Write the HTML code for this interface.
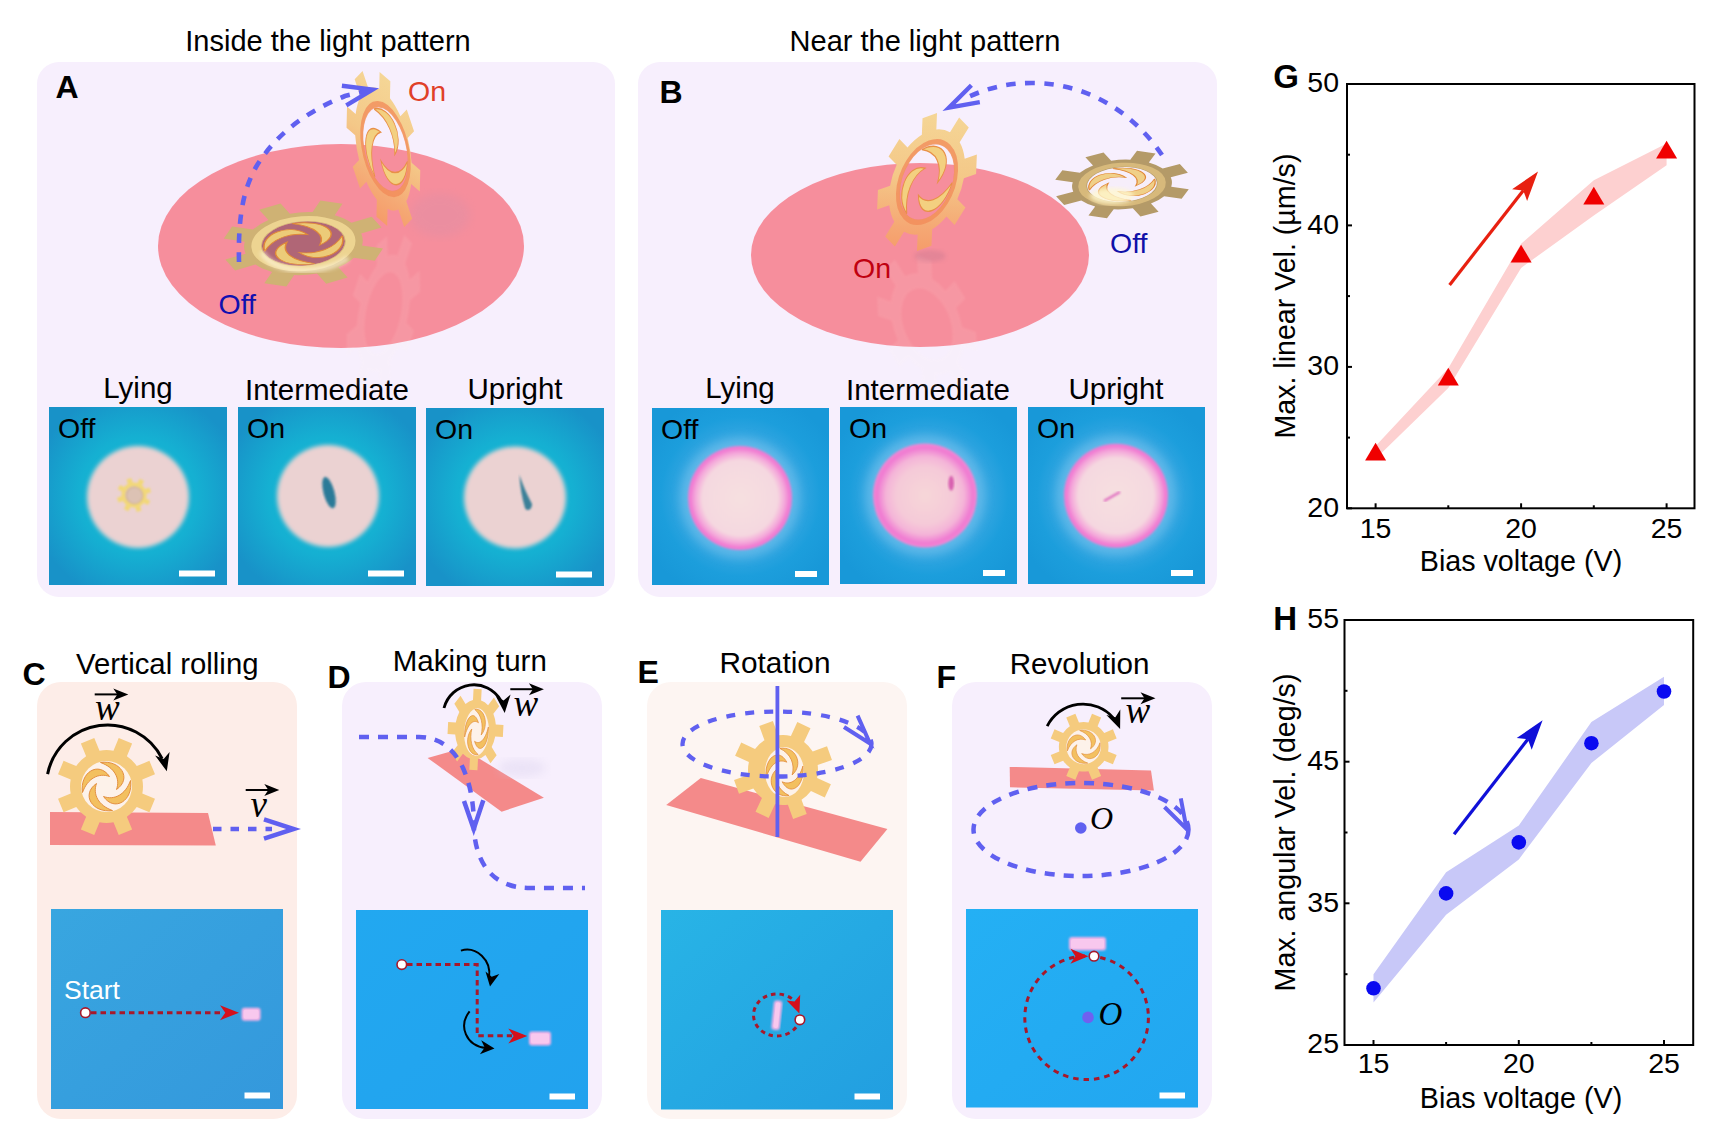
<!DOCTYPE html>
<html><head><meta charset="utf-8"><style>
html,body{margin:0;padding:0;background:#fff;width:1720px;height:1144px;overflow:hidden}
svg{display:block}
</style></head><body>
<svg width="1720" height="1144" viewBox="0 0 1720 1144">
<rect width="1720" height="1144" fill="#fff"/>
<defs>

<radialGradient id="gA" cx="0.5" cy="0.5" r="0.6">
 <stop offset="0" stop-color="#12c0d6"/><stop offset="0.55" stop-color="#15b0d2"/><stop offset="1" stop-color="#1892c8"/>
</radialGradient>
<radialGradient id="gB" cx="0.5" cy="0.5" r="0.6">
 <stop offset="0" stop-color="#6ab8ea"/><stop offset="0.5" stop-color="#3aa8e2"/><stop offset="0.75" stop-color="#1c9edc"/><stop offset="1" stop-color="#1898d8"/>
</radialGradient>
<radialGradient id="dishA" cx="0.5" cy="0.5" r="0.5">
 <stop offset="0" stop-color="#e8cbcd"/><stop offset="0.9" stop-color="#e7cacc"/><stop offset="1" stop-color="#e2d2d6"/>
</radialGradient>
<radialGradient id="dishB" cx="0.5" cy="0.5" r="0.5">
 <stop offset="0" stop-color="#f6e0e0"/><stop offset="0.72" stop-color="#f5d8e0"/><stop offset="0.86" stop-color="#f4a8da"/><stop offset="0.96" stop-color="#f078d2"/><stop offset="1" stop-color="#f080d4"/>
</radialGradient>
<radialGradient id="dishB2" cx="0.5" cy="0.5" r="0.5">
 <stop offset="0" stop-color="#f6d6d8"/><stop offset="0.55" stop-color="#f5cad8"/><stop offset="0.75" stop-color="#f4b4d8"/><stop offset="0.92" stop-color="#f07ad2"/><stop offset="1" stop-color="#f088d4"/>
</radialGradient>
<linearGradient id="gC" x1="0" y1="0" x2="1" y2="1"><stop offset="0" stop-color="#38a6e0"/><stop offset="1" stop-color="#3498dc"/></linearGradient>
<linearGradient id="gD" x1="0" y1="0" x2="1" y2="1"><stop offset="0" stop-color="#22a8f0"/><stop offset="1" stop-color="#22a2ee"/></linearGradient>
<linearGradient id="gE" x1="0" y1="0" x2="1" y2="1"><stop offset="0" stop-color="#28b4e6"/><stop offset="1" stop-color="#229ee0"/></linearGradient>
<linearGradient id="gF" x1="0" y1="0" x2="1" y2="1"><stop offset="0" stop-color="#24b0f4"/><stop offset="1" stop-color="#22a6f0"/></linearGradient>
<linearGradient id="gold" x1="0" y1="0" x2="1" y2="1"><stop offset="0" stop-color="#f6d28a"/><stop offset="0.5" stop-color="#f2c470"/><stop offset="1" stop-color="#eab060"/></linearGradient>
<linearGradient id="goldO" x1="0.6" y1="0" x2="0.3" y2="1"><stop offset="0" stop-color="#f5d696"/><stop offset="0.45" stop-color="#f4c888"/><stop offset="0.8" stop-color="#f5a874"/><stop offset="1" stop-color="#f59a68"/></linearGradient>
<linearGradient id="khaki" x1="0" y1="0" x2="1" y2="1"><stop offset="0" stop-color="#c8aa70"/><stop offset="1" stop-color="#d6b878"/></linearGradient>
<filter id="blur2"><feGaussianBlur stdDeviation="2"/></filter>
<filter id="blur1"><feGaussianBlur stdDeviation="1"/></filter>
<filter id="blur5"><feGaussianBlur stdDeviation="5"/></filter>
<marker id="mk" viewBox="0 0 10 10" refX="9" refY="5" markerWidth="6" markerHeight="6" orient="auto"><path d="M0,0 L10,5 L0,10 z" fill="#000"/></marker>

</defs>
<rect x="37" y="62" width="578" height="535" rx="22" fill="#f7effd"/>
<rect x="638" y="62" width="579" height="535" rx="22" fill="#f7effd"/>
<rect x="37" y="682" width="260" height="437" rx="24" fill="#fdede8"/>
<rect x="342" y="682" width="260" height="437" rx="24" fill="#f7effd"/>
<rect x="647" y="682" width="260" height="437" rx="24" fill="#fdf5f2"/>
<rect x="952" y="682" width="260" height="437" rx="24" fill="#f7effd"/>
<text x="328" y="50.7" font-family="Liberation Sans, sans-serif" font-size="29" fill="#000" text-anchor="middle" font-weight="normal"  >Inside the light pattern</text>
<text x="925" y="51" font-family="Liberation Sans, sans-serif" font-size="29" fill="#000" text-anchor="middle" font-weight="normal"  >Near the light pattern</text>
<text x="55.5" y="97.5" font-family="Liberation Sans, sans-serif" font-size="32" fill="#000" text-anchor="start" font-weight="bold"  >A</text>
<text x="659.5" y="102.7" font-family="Liberation Sans, sans-serif" font-size="32" fill="#000" text-anchor="start" font-weight="bold"  >B</text>
<text x="138" y="397.9" font-family="Liberation Sans, sans-serif" font-size="29.5" fill="#000" text-anchor="middle" font-weight="normal"  >Lying</text>
<text x="327" y="400.2" font-family="Liberation Sans, sans-serif" font-size="29.5" fill="#000" text-anchor="middle" font-weight="normal"  >Intermediate</text>
<text x="515" y="399" font-family="Liberation Sans, sans-serif" font-size="29.5" fill="#000" text-anchor="middle" font-weight="normal"  >Upright</text>
<text x="740" y="397.9" font-family="Liberation Sans, sans-serif" font-size="29.5" fill="#000" text-anchor="middle" font-weight="normal"  >Lying</text>
<text x="928" y="400.4" font-family="Liberation Sans, sans-serif" font-size="29.5" fill="#000" text-anchor="middle" font-weight="normal"  >Intermediate</text>
<text x="1116" y="398.6" font-family="Liberation Sans, sans-serif" font-size="29.5" fill="#000" text-anchor="middle" font-weight="normal"  >Upright</text>
<rect x="49" y="407" width="178" height="178" fill="url(#gA)"/>
<circle cx="138" cy="497" r="51" fill="#ebd2d2" filter="url(#blur2)"/>
<text x="58" y="438" font-family="Liberation Sans, sans-serif" font-size="28.5" fill="#000" text-anchor="start" font-weight="normal"  >Off</text>
<rect x="179" y="570.5" width="36" height="6" fill="#fff"/>
<rect x="238" y="407" width="178" height="178" fill="url(#gA)"/>
<circle cx="328" cy="496" r="51" fill="#ebd2d2" filter="url(#blur2)"/>
<text x="247" y="438" font-family="Liberation Sans, sans-serif" font-size="28.5" fill="#000" text-anchor="start" font-weight="normal"  >On</text>
<rect x="368" y="570.5" width="36" height="6" fill="#fff"/>
<rect x="426" y="408" width="178" height="178" fill="url(#gA)"/>
<circle cx="515" cy="497.5" r="51" fill="#ebd2d2" filter="url(#blur2)"/>
<text x="435" y="439" font-family="Liberation Sans, sans-serif" font-size="28.5" fill="#000" text-anchor="start" font-weight="normal"  >On</text>
<rect x="556" y="571.5" width="36" height="6" fill="#fff"/>
<rect x="652" y="408" width="177" height="177" fill="url(#gB)"/>
<circle cx="740" cy="498" r="60" fill="#7cc4ee" opacity="0.55" filter="url(#blur5)"/>
<circle cx="740" cy="498" r="52" fill="url(#dishB)" filter="url(#blur1)"/>
<text x="661" y="439" font-family="Liberation Sans, sans-serif" font-size="28.5" fill="#000" text-anchor="start" font-weight="normal"  >Off</text>
<rect x="795" y="571" width="22" height="6" fill="#fff"/>
<rect x="840" y="407" width="177" height="177" fill="url(#gB)"/>
<circle cx="925" cy="495.5" r="60" fill="#7cc4ee" opacity="0.55" filter="url(#blur5)"/>
<circle cx="925" cy="495.5" r="52" fill="url(#dishB2)" filter="url(#blur1)"/>
<text x="849" y="438" font-family="Liberation Sans, sans-serif" font-size="28.5" fill="#000" text-anchor="start" font-weight="normal"  >On</text>
<rect x="983" y="570" width="22" height="6" fill="#fff"/>
<rect x="1028" y="407" width="177" height="177" fill="url(#gB)"/>
<circle cx="1116" cy="495.7" r="60" fill="#7cc4ee" opacity="0.55" filter="url(#blur5)"/>
<circle cx="1116" cy="495.7" r="52" fill="url(#dishB)" filter="url(#blur1)"/>
<text x="1037" y="438" font-family="Liberation Sans, sans-serif" font-size="28.5" fill="#000" text-anchor="start" font-weight="normal"  >On</text>
<rect x="1171" y="570" width="22" height="6" fill="#fff"/>
<text x="22.5" y="684.7" font-family="Liberation Sans, sans-serif" font-size="32" fill="#000" text-anchor="start" font-weight="bold"  >C</text>
<text x="327.5" y="688" font-family="Liberation Sans, sans-serif" font-size="32" fill="#000" text-anchor="start" font-weight="bold"  >D</text>
<text x="637.5" y="682.6" font-family="Liberation Sans, sans-serif" font-size="32" fill="#000" text-anchor="start" font-weight="bold"  >E</text>
<text x="936.5" y="687.7" font-family="Liberation Sans, sans-serif" font-size="32" fill="#000" text-anchor="start" font-weight="bold"  >F</text>
<text x="167.3" y="673.7" font-family="Liberation Sans, sans-serif" font-size="29.3" fill="#000" text-anchor="middle" font-weight="normal"  >Vertical rolling</text>
<text x="469.8" y="670.7" font-family="Liberation Sans, sans-serif" font-size="29.5" fill="#000" text-anchor="middle" font-weight="normal"  >Making turn</text>
<text x="775" y="673" font-family="Liberation Sans, sans-serif" font-size="29.8" fill="#000" text-anchor="middle" font-weight="normal"  >Rotation</text>
<text x="1079.6" y="674.2" font-family="Liberation Sans, sans-serif" font-size="29.6" fill="#000" text-anchor="middle" font-weight="normal"  >Revolution</text>
<rect x="51" y="909" width="232" height="200" fill="url(#gC)"/>
<rect x="244.5" y="1092.5" width="25.5" height="6" fill="#fff"/>
<rect x="356" y="910" width="232" height="199" fill="url(#gD)"/>
<rect x="549.5" y="1093.5" width="25.5" height="6" fill="#fff"/>
<rect x="661" y="910" width="232" height="199.5" fill="url(#gE)"/>
<rect x="854.5" y="1093.5" width="25.5" height="6" fill="#fff"/>
<rect x="966" y="909" width="232" height="198.5" fill="url(#gF)"/>
<rect x="1159.5" y="1092.5" width="25.5" height="6" fill="#fff"/>
<ellipse cx="341" cy="246" rx="183" ry="102" fill="#f68e9c"/>
<ellipse cx="920" cy="255" rx="169" ry="92" fill="#f68e9c"/>
<ellipse cx="440" cy="215" rx="30" ry="22" fill="#d890a8" opacity="0.35" filter="url(#blur5)"/>
<g transform="translate(0,462) scale(1,-1)" opacity="0.09" filter="url(#blur1)"><path d="M6.99,-35.82 L12.23,-48.48 L25.63,-42.93 L20.39,-30.28 A36.50,36.50 0 0 1 30.28,-20.39 L42.93,-25.63 L48.48,-12.23 L35.82,-6.99 A36.50,36.50 0 0 1 35.82,6.99 L48.48,12.23 L42.93,25.63 L30.28,20.39 A36.50,36.50 0 0 1 20.39,30.28 L25.63,42.93 L12.23,48.48 L6.99,35.82 A36.50,36.50 0 0 1 -6.99,35.82 L-12.23,48.48 L-25.63,42.93 L-20.39,30.28 A36.50,36.50 0 0 1 -30.28,20.39 L-42.93,25.63 L-48.48,12.23 L-35.82,6.99 A36.50,36.50 0 0 1 -35.82,-6.99 L-48.48,-12.23 L-42.93,-25.63 L-30.28,-20.39 A36.50,36.50 0 0 1 -20.39,-30.28 L-25.63,-42.93 L-12.23,-48.48 L-6.99,-35.82 A36.50,36.50 0 0 1 6.99,-35.82 Z M25.50,0.00 A25.50,25.50 0 1 0 -25.50,0.00 A25.50,25.50 0 1 0 25.50,0.00 Z" fill="#fff4e8" fill-rule="evenodd" transform="matrix(0.696,0.037,0.254,1.6,383.4,149)"/></g>
<g transform="translate(0,506) scale(1,-1)" opacity="0.09" filter="url(#blur1)"><path d="M-7.25,-35.77 L-7.25,-49.47 L7.25,-49.47 L7.25,-35.77 A36.50,36.50 0 0 1 20.17,-30.42 L29.86,-40.11 L40.11,-29.86 L30.42,-20.17 A36.50,36.50 0 0 1 35.77,-7.25 L49.47,-7.25 L49.47,7.25 L35.77,7.25 A36.50,36.50 0 0 1 30.42,20.17 L40.11,29.86 L29.86,40.11 L20.17,30.42 A36.50,36.50 0 0 1 7.25,35.77 L7.25,49.47 L-7.25,49.47 L-7.25,35.77 A36.50,36.50 0 0 1 -20.17,30.42 L-29.86,40.11 L-40.11,29.86 L-30.42,20.17 A36.50,36.50 0 0 1 -35.77,7.25 L-49.47,7.25 L-49.47,-7.25 L-35.77,-7.25 A36.50,36.50 0 0 1 -30.42,-20.17 L-40.11,-29.86 L-29.86,-40.11 L-20.17,-30.42 A36.50,36.50 0 0 1 -7.25,-35.77 Z M25.50,0.00 A25.50,25.50 0 1 0 -25.50,0.00 A25.50,25.50 0 1 0 25.50,0.00 Z" fill="#fff4e8" fill-rule="evenodd" transform="matrix(1.0,-0.36,-0.056,1.34,927,182)"/></g>
<ellipse cx="930" cy="256" rx="16" ry="6" fill="#c87890" opacity="0.4" filter="url(#blur2)"/>
<g transform="translate(303.4,243.6) rotate(-4) scale(1.63,0.86)">
<ellipse cx="0" cy="0" rx="25.5" ry="25.5" fill="#b06676"/>
<path d="M6.99,-35.82 L12.23,-48.48 L25.63,-42.93 L20.39,-30.28 A36.50,36.50 0 0 1 30.28,-20.39 L42.93,-25.63 L48.48,-12.23 L35.82,-6.99 A36.50,36.50 0 0 1 35.82,6.99 L48.48,12.23 L42.93,25.63 L30.28,20.39 A36.50,36.50 0 0 1 20.39,30.28 L25.63,42.93 L12.23,48.48 L6.99,35.82 A36.50,36.50 0 0 1 -6.99,35.82 L-12.23,48.48 L-25.63,42.93 L-20.39,30.28 A36.50,36.50 0 0 1 -30.28,20.39 L-42.93,25.63 L-48.48,12.23 L-35.82,6.99 A36.50,36.50 0 0 1 -35.82,-6.99 L-48.48,-12.23 L-42.93,-25.63 L-30.28,-20.39 A36.50,36.50 0 0 1 -20.39,-30.28 L-25.63,-42.93 L-12.23,-48.48 L-6.99,-35.82 A36.50,36.50 0 0 1 6.99,-35.82 Z M25.50,0.00 A25.50,25.50 0 1 0 -25.50,0.00 A25.50,25.50 0 1 0 25.50,0.00 Z" fill="#cfb274" fill-rule="evenodd" stroke="none" stroke-width="0.6" />
<ellipse cx="0" cy="0" rx="29.0" ry="29.0" fill="none" stroke="#f4dc98" stroke-width="6" opacity="0.8"/>
<g transform="translate(0,0) scale(1.000,1.000)">
<path transform="rotate(0.0)" d="M-6,-24 C14,-27 26,-8 10,3 C14,-8 8,-19 -6,-24 Z" fill="#eccb78" stroke="#e08838" stroke-width="0.9"/>
<path transform="rotate(90.0)" d="M-6,-24 C14,-27 26,-8 10,3 C14,-8 8,-19 -6,-24 Z" fill="#eccb78" stroke="#e08838" stroke-width="0.9"/>
<path transform="rotate(180.0)" d="M-6,-24 C14,-27 26,-8 10,3 C14,-8 8,-19 -6,-24 Z" fill="#eccb78" stroke="#e08838" stroke-width="0.9"/>
<path transform="rotate(270.0)" d="M-6,-24 C14,-27 26,-8 10,3 C14,-8 8,-19 -6,-24 Z" fill="#eccb78" stroke="#e08838" stroke-width="0.9"/>
</g>
</g>
<path d="M262,252 C270,272 320,278 348,258" fill="none" stroke="#fff8e0" stroke-width="5" opacity="0.7" filter="url(#blur2)"/>
<g transform="matrix(0.696,0.037,0.254,1.6,383.4,149)">
<path d="M7.77,-37.71 L12.23,-48.48 L25.63,-42.93 L21.17,-32.16 A38.50,38.50 0 0 1 32.16,-21.17 L42.93,-25.63 L48.48,-12.23 L37.71,-7.77 A38.50,38.50 0 0 1 37.71,7.77 L48.48,12.23 L42.93,25.63 L32.16,21.17 A38.50,38.50 0 0 1 21.17,32.16 L25.63,42.93 L12.23,48.48 L7.77,37.71 A38.50,38.50 0 0 1 -7.77,37.71 L-12.23,48.48 L-25.63,42.93 L-21.17,32.16 A38.50,38.50 0 0 1 -32.16,21.17 L-42.93,25.63 L-48.48,12.23 L-37.71,7.77 A38.50,38.50 0 0 1 -37.71,-7.77 L-48.48,-12.23 L-42.93,-25.63 L-32.16,-21.17 A38.50,38.50 0 0 1 -21.17,-32.16 L-25.63,-42.93 L-12.23,-48.48 L-7.77,-37.71 A38.50,38.50 0 0 1 7.77,-37.71 Z M34.00,0.00 A31.00,26.50 0 1 0 -28.00,0.00 A31.00,26.50 0 1 0 34.00,0.00 Z" fill="url(#goldO)" fill-rule="evenodd" stroke="none" stroke-width="0.6" />
<g transform="translate(3,0) scale(1.216,1.039)">
<path transform="rotate(0.0)" d="M-6,-24 C14,-27 26,-8 10,3 C14,-8 8,-19 -6,-24 Z" fill="#f3d080" stroke="#e89048" stroke-width="0.9"/>
<path transform="rotate(120.0)" d="M-6,-24 C14,-27 26,-8 10,3 C14,-8 8,-19 -6,-24 Z" fill="#f3d080" stroke="#e89048" stroke-width="0.9"/>
<path transform="rotate(240.0)" d="M-6,-24 C14,-27 26,-8 10,3 C14,-8 8,-19 -6,-24 Z" fill="#f3d080" stroke="#e89048" stroke-width="0.9"/>
</g>
</g>
<ellipse cx="3" cy="0" rx="32.5" ry="28" fill="none" stroke="#f28a58" stroke-width="4" opacity="0.75" transform="matrix(0.696,0.037,0.254,1.6,383.4,149)"/>
<g transform="matrix(1.0,-0.36,-0.056,1.34,927,182)">
<path d="M-7.25,-37.30 L-7.25,-49.47 L7.25,-49.47 L7.25,-37.30 A38.00,38.00 0 0 1 21.25,-31.50 L29.86,-40.11 L40.11,-29.86 L31.50,-21.25 A38.00,38.00 0 0 1 37.30,-7.25 L49.47,-7.25 L49.47,7.25 L37.30,7.25 A38.00,38.00 0 0 1 31.50,21.25 L40.11,29.86 L29.86,40.11 L21.25,31.50 A38.00,38.00 0 0 1 7.25,37.30 L7.25,49.47 L-7.25,49.47 L-7.25,37.30 A38.00,38.00 0 0 1 -21.25,31.50 L-29.86,40.11 L-40.11,29.86 L-31.50,21.25 A38.00,38.00 0 0 1 -37.30,7.25 L-49.47,7.25 L-49.47,-7.25 L-37.30,-7.25 A38.00,38.00 0 0 1 -31.50,-21.25 L-40.11,-29.86 L-29.86,-40.11 L-21.25,-31.50 A38.00,38.00 0 0 1 -7.25,-37.30 Z M27.50,0.00 A27.50,27.50 0 1 0 -27.50,0.00 A27.50,27.50 0 1 0 27.50,0.00 Z" fill="url(#goldO)" fill-rule="evenodd" stroke="none" stroke-width="0.6" />
<g transform="translate(0,0) scale(1.078,1.078)">
<path transform="rotate(0.0)" d="M-6,-24 C14,-27 26,-8 10,3 C14,-8 8,-19 -6,-24 Z" fill="#f3d080" stroke="#e89048" stroke-width="0.9"/>
<path transform="rotate(120.0)" d="M-6,-24 C14,-27 26,-8 10,3 C14,-8 8,-19 -6,-24 Z" fill="#f3d080" stroke="#e89048" stroke-width="0.9"/>
<path transform="rotate(240.0)" d="M-6,-24 C14,-27 26,-8 10,3 C14,-8 8,-19 -6,-24 Z" fill="#f3d080" stroke="#e89048" stroke-width="0.9"/>
</g>
</g>
<ellipse cx="0" cy="0" rx="29" ry="29" fill="none" stroke="#f28a58" stroke-width="4" opacity="0.75" transform="matrix(1.0,-0.36,-0.056,1.34,927,182)"/>
<g transform="translate(1122,184.5) rotate(-3) scale(1.37,0.68)">
<ellipse cx="0" cy="0" rx="25.5" ry="25.5" fill="#f6eefa"/>
<path d="M6.99,-35.82 L12.23,-48.48 L25.63,-42.93 L20.39,-30.28 A36.50,36.50 0 0 1 30.28,-20.39 L42.93,-25.63 L48.48,-12.23 L35.82,-6.99 A36.50,36.50 0 0 1 35.82,6.99 L48.48,12.23 L42.93,25.63 L30.28,20.39 A36.50,36.50 0 0 1 20.39,30.28 L25.63,42.93 L12.23,48.48 L6.99,35.82 A36.50,36.50 0 0 1 -6.99,35.82 L-12.23,48.48 L-25.63,42.93 L-20.39,30.28 A36.50,36.50 0 0 1 -30.28,20.39 L-42.93,25.63 L-48.48,12.23 L-35.82,6.99 A36.50,36.50 0 0 1 -35.82,-6.99 L-48.48,-12.23 L-42.93,-25.63 L-30.28,-20.39 A36.50,36.50 0 0 1 -20.39,-30.28 L-25.63,-42.93 L-12.23,-48.48 L-6.99,-35.82 A36.50,36.50 0 0 1 6.99,-35.82 Z M25.50,0.00 A25.50,25.50 0 1 0 -25.50,0.00 A25.50,25.50 0 1 0 25.50,0.00 Z" fill="#b49a68" fill-rule="evenodd" stroke="none" stroke-width="0.6" />
<ellipse cx="0" cy="0" rx="29.0" ry="29.0" fill="none" stroke="#e0c080" stroke-width="6" opacity="0.8"/>
<g transform="translate(0,0) scale(1.000,1.000)">
<path transform="rotate(0.0)" d="M-6,-24 C14,-27 26,-8 10,3 C14,-8 8,-19 -6,-24 Z" fill="#f0d088" stroke="#e08838" stroke-width="0.9"/>
<path transform="rotate(90.0)" d="M-6,-24 C14,-27 26,-8 10,3 C14,-8 8,-19 -6,-24 Z" fill="#f0d088" stroke="#e08838" stroke-width="0.9"/>
<path transform="rotate(180.0)" d="M-6,-24 C14,-27 26,-8 10,3 C14,-8 8,-19 -6,-24 Z" fill="#f0d088" stroke="#e08838" stroke-width="0.9"/>
<path transform="rotate(270.0)" d="M-6,-24 C14,-27 26,-8 10,3 C14,-8 8,-19 -6,-24 Z" fill="#f0d088" stroke="#e08838" stroke-width="0.9"/>
</g>
</g>
<ellipse cx="1112" cy="196" rx="22" ry="8" fill="#fff8d0" opacity="0.8" filter="url(#blur2)"/>
<path d="M239,262 C238,218 243,190 256,167 C272,140 300,114 345,96 L368,90.5" fill="none" stroke="#6060f0" stroke-width="4.6" stroke-dasharray="9.5,9.5"/>
<path d="M341.9,85.7 L372.5,89.6 L346.3,105.3" fill="none" stroke="#6060f0" stroke-width="4.4" stroke-linejoin="miter"/>
<path d="M1162,155 C1135,115 1090,83 1032,83 C1005,83 985,89 966,98" fill="none" stroke="#6060f0" stroke-width="4.6" stroke-dasharray="9.5,9.5"/>
<path d="M971.4,85.3 L949,107.7 L979.8,102.1" fill="none" stroke="#6060f0" stroke-width="4.4" stroke-linejoin="miter"/>
<text x="408" y="101.4" font-family="Liberation Sans, sans-serif" font-size="28.5" fill="#e04028" text-anchor="start" font-weight="normal"  >On</text>
<text x="218.5" y="313.9" font-family="Liberation Sans, sans-serif" font-size="28.5" fill="#1010b0" text-anchor="start" font-weight="normal"  >Off</text>
<text x="853" y="278" font-family="Liberation Sans, sans-serif" font-size="28.5" fill="#c00010" text-anchor="start" font-weight="normal"  >On</text>
<text x="1110" y="253.4" font-family="Liberation Sans, sans-serif" font-size="28.5" fill="#1010a8" text-anchor="start" font-weight="normal"  >Off</text>
<polygon points="50,812 208,813 215.8,845.4 50,845" fill="#f48a8a"/>
<g transform="translate(106.5,786.5)">
<ellipse cx="0" cy="0" rx="25.5" ry="25.5" fill="#fdf2ea"/>
<path d="M6.99,-35.82 L12.23,-48.48 L25.63,-42.93 L20.39,-30.28 A36.50,36.50 0 0 1 30.28,-20.39 L42.93,-25.63 L48.48,-12.23 L35.82,-6.99 A36.50,36.50 0 0 1 35.82,6.99 L48.48,12.23 L42.93,25.63 L30.28,20.39 A36.50,36.50 0 0 1 20.39,30.28 L25.63,42.93 L12.23,48.48 L6.99,35.82 A36.50,36.50 0 0 1 -6.99,35.82 L-12.23,48.48 L-25.63,42.93 L-20.39,30.28 A36.50,36.50 0 0 1 -30.28,20.39 L-42.93,25.63 L-48.48,12.23 L-35.82,6.99 A36.50,36.50 0 0 1 -35.82,-6.99 L-48.48,-12.23 L-42.93,-25.63 L-30.28,-20.39 A36.50,36.50 0 0 1 -20.39,-30.28 L-25.63,-42.93 L-12.23,-48.48 L-6.99,-35.82 A36.50,36.50 0 0 1 6.99,-35.82 Z M25.50,0.00 A25.50,25.50 0 1 0 -25.50,0.00 A25.50,25.50 0 1 0 25.50,0.00 Z" fill="#f5cb7e" fill-rule="evenodd" stroke="none" stroke-width="0.6" />
<g transform="translate(0,0) scale(1.000,1.000)">
<path transform="rotate(0.0)" d="M-6,-24 C14,-27 26,-8 10,3 C14,-8 8,-19 -6,-24 Z" fill="#f3c060" stroke="#e08838" stroke-width="0.9"/>
<path transform="rotate(90.0)" d="M-6,-24 C14,-27 26,-8 10,3 C14,-8 8,-19 -6,-24 Z" fill="#f3c060" stroke="#e08838" stroke-width="0.9"/>
<path transform="rotate(180.0)" d="M-6,-24 C14,-27 26,-8 10,3 C14,-8 8,-19 -6,-24 Z" fill="#f3c060" stroke="#e08838" stroke-width="0.9"/>
<path transform="rotate(270.0)" d="M-6,-24 C14,-27 26,-8 10,3 C14,-8 8,-19 -6,-24 Z" fill="#f3c060" stroke="#e08838" stroke-width="0.9"/>
</g>
</g>
<path d="M47.6,774.1 A61.1,61.1 0 0 1 162.1,758.6" fill="none" stroke="#000" stroke-width="3.0"/>
<path d="M166.8,771.2 L155.1,755.6 L163.7,759.0 L169.6,751.9 Z" fill="#000"/>
<line x1="213" y1="829" x2="272" y2="829" stroke="#6060f0" stroke-width="4.3" stroke-dasharray="8.5,9"/>
<path d="M264,819.4 L293.7,829 L264,838.7" fill="none" stroke="#6060f0" stroke-width="4.5"/>
<polygon points="427.6,757.9 462.2,748.3 543.9,797.7 501.6,811.7" fill="#f48a8a"/>
<ellipse cx="522" cy="768" rx="24" ry="9" fill="#d0c8e8" opacity="0.3" filter="url(#blur5)"/>
<g transform="translate(475.5,729.5) rotate(3) scale(0.56,0.82)">
<ellipse cx="2" cy="3" rx="22" ry="29" fill="#fdf2ea"/>
<path d="M-7.25,-35.77 L-7.25,-49.47 L7.25,-49.47 L7.25,-35.77 A36.50,36.50 0 0 1 20.17,-30.42 L29.86,-40.11 L40.11,-29.86 L30.42,-20.17 A36.50,36.50 0 0 1 35.77,-7.25 L49.47,-7.25 L49.47,7.25 L35.77,7.25 A36.50,36.50 0 0 1 30.42,20.17 L40.11,29.86 L29.86,40.11 L20.17,30.42 A36.50,36.50 0 0 1 7.25,35.77 L7.25,49.47 L-7.25,49.47 L-7.25,35.77 A36.50,36.50 0 0 1 -20.17,30.42 L-29.86,40.11 L-40.11,29.86 L-30.42,20.17 A36.50,36.50 0 0 1 -35.77,7.25 L-49.47,7.25 L-49.47,-7.25 L-35.77,-7.25 A36.50,36.50 0 0 1 -30.42,-20.17 L-40.11,-29.86 L-29.86,-40.11 L-20.17,-30.42 A36.50,36.50 0 0 1 -7.25,-35.77 Z M24.00,3.00 A22.00,29.00 0 1 0 -20.00,3.00 A22.00,29.00 0 1 0 24.00,3.00 Z" fill="#f5cb7e" fill-rule="evenodd" stroke="none" stroke-width="0.6" />
<g transform="translate(2,3) scale(0.863,1.137)">
<path transform="rotate(0.0)" d="M-6,-24 C14,-27 26,-8 10,3 C14,-8 8,-19 -6,-24 Z" fill="#f3c060" stroke="#e08838" stroke-width="0.9"/>
<path transform="rotate(90.0)" d="M-6,-24 C14,-27 26,-8 10,3 C14,-8 8,-19 -6,-24 Z" fill="#f3c060" stroke="#e08838" stroke-width="0.9"/>
<path transform="rotate(180.0)" d="M-6,-24 C14,-27 26,-8 10,3 C14,-8 8,-19 -6,-24 Z" fill="#f3c060" stroke="#e08838" stroke-width="0.9"/>
<path transform="rotate(270.0)" d="M-6,-24 C14,-27 26,-8 10,3 C14,-8 8,-19 -6,-24 Z" fill="#f3c060" stroke="#e08838" stroke-width="0.9"/>
</g>
</g>
<path d="M444.0,708.0 A30.9,30.9 0 0 1 500.7,700.2" fill="none" stroke="#000" stroke-width="2.8"/>
<path d="M504.7,713.0 L495.6,695.7 L503.6,700.5 L510.6,694.4 Z" fill="#000"/>
<path d="M359,737 L419,737 C440,737 455,750 463,768 C471,786 474,805 474,830 C476,860 490,888 530,888 L585,888" fill="none" stroke="#6060f0" stroke-width="4.5" stroke-dasharray="10,9"/>
<path d="M464,801 L473.7,829 L483.3,800.2" fill="none" stroke="#6060f0" stroke-width="4.5"/>
<polygon points="666.2,805 700.8,778 887.4,829 860.5,861.7" fill="#f48a8a"/>
<g transform="translate(783,770)">
<ellipse cx="1.5" cy="2" rx="19.5" ry="25" fill="#fdf2ea"/>
<path d="M7.90,-34.10 L14.34,-47.90 L27.48,-41.77 L21.04,-27.97 A35.00,35.00 0 0 1 29.70,-18.52 L44.01,-23.73 L48.97,-10.11 L34.66,-4.90 A35.00,35.00 0 0 1 34.10,7.90 L47.90,14.34 L41.77,27.48 L27.97,21.04 A35.00,35.00 0 0 1 18.52,29.70 L23.73,44.01 L10.11,48.97 L4.90,34.66 A35.00,35.00 0 0 1 -7.90,34.10 L-14.34,47.90 L-27.48,41.77 L-21.04,27.97 A35.00,35.00 0 0 1 -29.70,18.52 L-44.01,23.73 L-48.97,10.11 L-34.66,4.90 A35.00,35.00 0 0 1 -34.10,-7.90 L-47.90,-14.34 L-41.77,-27.48 L-27.97,-21.04 A35.00,35.00 0 0 1 -18.52,-29.70 L-23.73,-44.01 L-10.11,-48.97 L-4.90,-34.66 A35.00,35.00 0 0 1 7.90,-34.10 Z M21.00,2.00 A19.50,25.00 0 1 0 -18.00,2.00 A19.50,25.00 0 1 0 21.00,2.00 Z" fill="#f5cb7e" fill-rule="evenodd" stroke="none" stroke-width="0.6" />
<g transform="translate(1.5,2) scale(0.765,0.980)">
<path transform="rotate(0.0)" d="M-6,-24 C14,-27 26,-8 10,3 C14,-8 8,-19 -6,-24 Z" fill="#f3c060" stroke="#e08838" stroke-width="0.9"/>
<path transform="rotate(90.0)" d="M-6,-24 C14,-27 26,-8 10,3 C14,-8 8,-19 -6,-24 Z" fill="#f3c060" stroke="#e08838" stroke-width="0.9"/>
<path transform="rotate(180.0)" d="M-6,-24 C14,-27 26,-8 10,3 C14,-8 8,-19 -6,-24 Z" fill="#f3c060" stroke="#e08838" stroke-width="0.9"/>
<path transform="rotate(270.0)" d="M-6,-24 C14,-27 26,-8 10,3 C14,-8 8,-19 -6,-24 Z" fill="#f3c060" stroke="#e08838" stroke-width="0.9"/>
</g>
</g>
<ellipse cx="777" cy="744" rx="94.5" ry="32.5" fill="none" stroke="#6060f0" stroke-width="4.3" stroke-dasharray="9,10"/>
<line x1="777.4" y1="686" x2="777.4" y2="837" stroke="#6060f0" stroke-width="3.8"/>
<path d="M857.6,715.6 L870,743.5 L844,727" fill="none" stroke="#6060f0" stroke-width="4"/>
<polygon points="1009.7,766.9 1151,770.4 1153.9,790.6 1010,787.3" fill="#f48a8a"/>
<g transform="translate(1083.7,746.8) scale(0.68)">
<ellipse cx="0" cy="0" rx="25.5" ry="25.5" fill="#fdf2ea"/>
<path d="M6.99,-35.82 L12.23,-48.48 L25.63,-42.93 L20.39,-30.28 A36.50,36.50 0 0 1 30.28,-20.39 L42.93,-25.63 L48.48,-12.23 L35.82,-6.99 A36.50,36.50 0 0 1 35.82,6.99 L48.48,12.23 L42.93,25.63 L30.28,20.39 A36.50,36.50 0 0 1 20.39,30.28 L25.63,42.93 L12.23,48.48 L6.99,35.82 A36.50,36.50 0 0 1 -6.99,35.82 L-12.23,48.48 L-25.63,42.93 L-20.39,30.28 A36.50,36.50 0 0 1 -30.28,20.39 L-42.93,25.63 L-48.48,12.23 L-35.82,6.99 A36.50,36.50 0 0 1 -35.82,-6.99 L-48.48,-12.23 L-42.93,-25.63 L-30.28,-20.39 A36.50,36.50 0 0 1 -20.39,-30.28 L-25.63,-42.93 L-12.23,-48.48 L-6.99,-35.82 A36.50,36.50 0 0 1 6.99,-35.82 Z M25.50,0.00 A25.50,25.50 0 1 0 -25.50,0.00 A25.50,25.50 0 1 0 25.50,0.00 Z" fill="#f5cb7e" fill-rule="evenodd" stroke="none" stroke-width="0.6" />
<g transform="translate(0,0) scale(1.000,1.000)">
<path transform="rotate(0.0)" d="M-6,-24 C14,-27 26,-8 10,3 C14,-8 8,-19 -6,-24 Z" fill="#f3c060" stroke="#e08838" stroke-width="0.9"/>
<path transform="rotate(90.0)" d="M-6,-24 C14,-27 26,-8 10,3 C14,-8 8,-19 -6,-24 Z" fill="#f3c060" stroke="#e08838" stroke-width="0.9"/>
<path transform="rotate(180.0)" d="M-6,-24 C14,-27 26,-8 10,3 C14,-8 8,-19 -6,-24 Z" fill="#f3c060" stroke="#e08838" stroke-width="0.9"/>
<path transform="rotate(270.0)" d="M-6,-24 C14,-27 26,-8 10,3 C14,-8 8,-19 -6,-24 Z" fill="#f3c060" stroke="#e08838" stroke-width="0.9"/>
</g>
</g>
<ellipse cx="1081" cy="829.5" rx="107.5" ry="46.5" fill="none" stroke="#6060f0" stroke-width="4.5" stroke-dasharray="10,9"/>
<path d="M1180.8,798.3 L1186.6,829 L1164.5,807" fill="none" stroke="#6060f0" stroke-width="4"/>
<path d="M1047.2,726.2 A40,40 0 0 1 1113.0,717.6" fill="none" stroke="#000" stroke-width="2.8"/>
<path d="M1120.1,729.0 L1106.4,715.1 L1115.4,717.3 L1120.3,709.5 Z" fill="#000"/>
<circle cx="1080.8" cy="828" r="5.8" fill="#6060f0"/>
<text x="95" y="719.5" font-family="Liberation Serif, serif" font-size="37" fill="#000" text-anchor="start" font-weight="normal" font-style="italic" >w</text>
<line x1="94.7" y1="694.4" x2="122.30000000000001" y2="694.4" stroke="#000" stroke-width="2"/>
<path d="M128.3,694.4 L113.30000000000001,688.4 L117.30000000000001,694.4 L113.30000000000001,700.4 Z" fill="#000"/>
<text x="513.5" y="715.5" font-family="Liberation Serif, serif" font-size="37" fill="#000" text-anchor="start" font-weight="normal" font-style="italic" >w</text>
<line x1="510.3" y1="689.2" x2="537.9" y2="689.2" stroke="#000" stroke-width="2"/>
<path d="M543.9,689.2 L528.9,683.2 L532.9,689.2 L528.9,695.2 Z" fill="#000"/>
<text x="1125.5" y="723.3" font-family="Liberation Serif, serif" font-size="37" fill="#000" text-anchor="start" font-weight="normal" font-style="italic" >w</text>
<line x1="1121.2" y1="698.3" x2="1149.5" y2="698.3" stroke="#000" stroke-width="2"/>
<path d="M1155.5,698.3 L1140.5,692.3 L1144.5,698.3 L1140.5,704.3 Z" fill="#000"/>
<text x="250.5" y="817" font-family="Liberation Serif, serif" font-size="37" fill="#000" text-anchor="start" font-weight="normal" font-style="italic" >v</text>
<line x1="245.7" y1="790" x2="273.3" y2="790" stroke="#000" stroke-width="2"/>
<path d="M279.3,790 L264.3,784 L268.3,790 L264.3,796 Z" fill="#000"/>
<text x="1090" y="829" font-family="Liberation Serif, serif" font-size="32" fill="#000" text-anchor="start" font-weight="normal" font-style="italic" >O</text>
<text x="64" y="999" font-family="Liberation Sans, sans-serif" font-size="26.5" fill="#fff" text-anchor="start" font-weight="normal"  >Start</text>
<line x1="91" y1="1012.7" x2="222" y2="1012.7" stroke="#a8182a" stroke-width="3" stroke-dasharray="5.5,4"/>
<path d="M239.0,1012.7 L220.0,1020.2 L225.3,1012.7 L220.0,1005.2 Z" fill="#d4101c"/>
<g transform="rotate(0 251.1 1014.3)"><rect x="241.6" y="1007.8" width="19" height="13" rx="3" fill="#f4b4e8" filter="url(#blur1)"/><rect x="243.6" y="1009.8" width="15" height="9" rx="2" fill="#f8c8ee"/></g>
<circle cx="85.4" cy="1012.7" r="4.8" fill="#fff" stroke="#a8182a" stroke-width="1.6"/>
<path d="M407,964.6 H477.2 V1035.8 H512" fill="none" stroke="#a8182a" stroke-width="3" stroke-dasharray="5.5,4"/>
<path d="M527.3,1036.0 L508.3,1043.5 L513.6,1036.0 L508.3,1028.5 Z" fill="#d4101c"/>
<g transform="rotate(0 540.0 1038.4)"><rect x="529" y="1031.4" width="22" height="14" rx="3" fill="#f4b4e8" filter="url(#blur1)"/><rect x="531" y="1033.4" width="18" height="10" rx="2" fill="#f8c8ee"/></g>
<circle cx="401.8" cy="964.6" r="4.8" fill="#fff" stroke="#a8182a" stroke-width="1.6"/>
<path d="M460.9,950.6 C476,946 492,960 489,978" fill="none" stroke="#000" stroke-width="2"/>
<path d="M490.0,986.5 L485.5,971.5 L491.7,976.8 L499.3,973.9 Z" fill="#000"/>
<path d="M469.6,1011.3 C458,1026 466,1046 486,1048" fill="none" stroke="#000" stroke-width="2"/>
<path d="M494.5,1048.5 L479.9,1054.3 L484.7,1047.6 L481.2,1040.3 Z" fill="#000"/>
<path d="M799.9,1019.8 A23.5,21 0 1 1 793.1,999.7" fill="none" stroke="#a8182a" stroke-width="3" stroke-dasharray="4.5,4"/>
<g transform="rotate(6 776.85 1015.25)"><rect x="772.6" y="1000.5" width="8.5" height="29.5" rx="3" fill="#f4b4e8" filter="url(#blur1)"/><rect x="774.6" y="1002.5" width="4.5" height="25.5" rx="2" fill="#f8c8ee"/></g>
<path d="M799.4,1013.5 L800.2,994.8 L794.5,1001.6 L786.6,1000.5 Z" fill="#d4101c"/>
<circle cx="799.9" cy="1019.8" r="4.8" fill="#fff" stroke="#a8182a" stroke-width="1.6"/>
<circle cx="1086.6" cy="1017.8" r="61.8" fill="none" stroke="#a8182a" stroke-width="3" stroke-dasharray="5.5,5"/>
<g transform="rotate(0 1087.5 943.75)"><rect x="1069" y="937" width="37" height="13.5" rx="3" fill="#f4b4e8" filter="url(#blur1)"/><rect x="1071" y="939" width="33" height="9.5" rx="2" fill="#f8c8ee"/></g>
<path d="M1088.4,956.2 L1070.4,963.7 L1075.4,956.2 L1070.4,948.7 Z" fill="#d4101c"/>
<circle cx="1094" cy="956.2" r="4.8" fill="#fff" stroke="#a8182a" stroke-width="1.6"/>
<circle cx="1088" cy="1017.4" r="5.8" fill="#7060f0"/>
<text x="1098.5" y="1024.7" font-family="Liberation Serif, serif" font-size="33" fill="#000" text-anchor="start" font-weight="normal" font-style="italic" >O</text>
<g filter="url(#blur1)">
<g transform="translate(134,495) rotate(5) scale(0.345)">
<ellipse cx="0" cy="0" rx="25.5" ry="25.5" fill="#dcc2b4"/>
<path d="M6.99,-35.82 L12.23,-48.48 L25.63,-42.93 L20.39,-30.28 A36.50,36.50 0 0 1 30.28,-20.39 L42.93,-25.63 L48.48,-12.23 L35.82,-6.99 A36.50,36.50 0 0 1 35.82,6.99 L48.48,12.23 L42.93,25.63 L30.28,20.39 A36.50,36.50 0 0 1 20.39,30.28 L25.63,42.93 L12.23,48.48 L6.99,35.82 A36.50,36.50 0 0 1 -6.99,35.82 L-12.23,48.48 L-25.63,42.93 L-20.39,30.28 A36.50,36.50 0 0 1 -30.28,20.39 L-42.93,25.63 L-48.48,12.23 L-35.82,6.99 A36.50,36.50 0 0 1 -35.82,-6.99 L-48.48,-12.23 L-42.93,-25.63 L-30.28,-20.39 A36.50,36.50 0 0 1 -20.39,-30.28 L-25.63,-42.93 L-12.23,-48.48 L-6.99,-35.82 A36.50,36.50 0 0 1 6.99,-35.82 Z M25.50,0.00 A25.50,25.50 0 1 0 -25.50,0.00 A25.50,25.50 0 1 0 25.50,0.00 Z" fill="#f2d878" fill-rule="evenodd" stroke="none" stroke-width="0.6" />
</g>
<circle cx="134.5" cy="495.5" r="8.3" fill="none" stroke="#c8a890" stroke-width="1.2" opacity="0.7"/>
</g>
<ellipse cx="329" cy="492.6" rx="5.5" ry="16" fill="#2a7a98" transform="rotate(-15 329 492.6)" filter="url(#blur1)"/>
<path d="M519.4,474.7 C523,486 528,496 532,504 C532,510 527,512 525,508 C522,498 520,486 519.4,474.7 Z" fill="#3a8098" filter="url(#blur1)"/>
<ellipse cx="951.2" cy="483.2" rx="2.8" ry="7.5" fill="#d860b0" filter="url(#blur1)"/>
<line x1="1104" y1="501" x2="1120" y2="492" stroke="#e070c0" stroke-width="2.5" filter="url(#blur1)"/>
<rect x="1347" y="84" width="347.5" height="424.3" fill="none" stroke="#000" stroke-width="2"/>
<polygon points="1375.6,446.1 1448.3,368.3 1521.1,243.8 1593.8,180.2 1666.6,143.4 1666.6,165.3 1593.8,215.5 1521.1,267.9 1448.3,388.1 1375.6,458.8" fill="#fdd0d0"/>
<line x1="1375.6" y1="508.3" x2="1375.6" y2="503.3" stroke="#000" stroke-width="2"/>
<line x1="1448.3" y1="508.3" x2="1448.3" y2="505.3" stroke="#000" stroke-width="2"/>
<line x1="1521.1" y1="508.3" x2="1521.1" y2="503.3" stroke="#000" stroke-width="2"/>
<line x1="1593.8" y1="508.3" x2="1593.8" y2="505.3" stroke="#000" stroke-width="2"/>
<line x1="1666.6" y1="508.3" x2="1666.6" y2="503.3" stroke="#000" stroke-width="2"/>
<text x="1375.6" y="537.9" font-family="Liberation Sans, sans-serif" font-size="28.5" fill="#000" text-anchor="middle" font-weight="normal"  >15</text>
<text x="1521.1" y="537.9" font-family="Liberation Sans, sans-serif" font-size="28.5" fill="#000" text-anchor="middle" font-weight="normal"  >20</text>
<text x="1666.6" y="537.9" font-family="Liberation Sans, sans-serif" font-size="28.5" fill="#000" text-anchor="middle" font-weight="normal"  >25</text>
<line x1="1347" y1="508.3" x2="1352" y2="508.3" stroke="#000" stroke-width="2"/>
<line x1="1347" y1="437.6" x2="1350" y2="437.6" stroke="#000" stroke-width="2"/>
<line x1="1347" y1="366.9" x2="1352" y2="366.9" stroke="#000" stroke-width="2"/>
<line x1="1347" y1="296.1" x2="1350" y2="296.1" stroke="#000" stroke-width="2"/>
<line x1="1347" y1="225.4" x2="1352" y2="225.4" stroke="#000" stroke-width="2"/>
<line x1="1347" y1="154.7" x2="1350" y2="154.7" stroke="#000" stroke-width="2"/>
<line x1="1347" y1="84.0" x2="1352" y2="84.0" stroke="#000" stroke-width="2"/>
<text x="1339" y="516.5" font-family="Liberation Sans, sans-serif" font-size="28.5" fill="#000" text-anchor="end" font-weight="normal"  >20</text>
<text x="1339" y="375.1" font-family="Liberation Sans, sans-serif" font-size="28.5" fill="#000" text-anchor="end" font-weight="normal"  >30</text>
<text x="1339" y="233.6" font-family="Liberation Sans, sans-serif" font-size="28.5" fill="#000" text-anchor="end" font-weight="normal"  >40</text>
<text x="1339" y="92.2" font-family="Liberation Sans, sans-serif" font-size="28.5" fill="#000" text-anchor="end" font-weight="normal"  >50</text>
<text x="0" y="0" transform="translate(1294.5,296.1) rotate(-90)" font-family="Liberation Sans, sans-serif" font-size="28.6" text-anchor="middle">Max. linear Vel. (µm/s)</text>
<text x="1521" y="571.1" font-family="Liberation Sans, sans-serif" font-size="28.7" fill="#000" text-anchor="middle" font-weight="normal"  >Bias voltage (V)</text>
<text x="1273.3" y="87.7" font-family="Liberation Sans, sans-serif" font-size="33" fill="#000" text-anchor="start" font-weight="bold"  >G</text>
<line x1="1449.6" y1="285" x2="1523.3" y2="190.4" stroke="#e82010" stroke-width="3.2"/>
<path d="M1538,171.5 L1527.1,201.0 L1523.3,190.4 L1512.1,189.3 Z" fill="#e82010"/>
<polygon points="1365.1,460.5 1386.1,460.5 1375.6,442.7" fill="#f00000"/>
<polygon points="1437.8,385.6 1458.8,385.6 1448.3,367.8" fill="#f00000"/>
<polygon points="1510.6,262.5 1531.6,262.5 1521.1,244.7" fill="#f00000"/>
<polygon points="1583.3,204.5 1604.3,204.5 1593.8,186.7" fill="#f00000"/>
<polygon points="1656.1,158.6 1677.1,158.6 1666.6,140.8" fill="#f00000"/>
<rect x="1344.5" y="620" width="348.70000000000005" height="425" fill="none" stroke="#000" stroke-width="2"/>
<polygon points="1373.5,974.2 1446.1,872.2 1518.8,825.4 1591.4,722.0 1664.0,676.7 1664.0,705.0 1591.4,763.1 1518.8,859.4 1446.1,914.7 1373.5,1002.5" fill="#c8c8f8"/>
<line x1="1373.5" y1="1045" x2="1373.5" y2="1040" stroke="#000" stroke-width="2"/>
<line x1="1446.1" y1="1045" x2="1446.1" y2="1042" stroke="#000" stroke-width="2"/>
<line x1="1518.8" y1="1045" x2="1518.8" y2="1040" stroke="#000" stroke-width="2"/>
<line x1="1591.4" y1="1045" x2="1591.4" y2="1042" stroke="#000" stroke-width="2"/>
<line x1="1664.0" y1="1045" x2="1664.0" y2="1040" stroke="#000" stroke-width="2"/>
<text x="1373.5" y="1072.8" font-family="Liberation Sans, sans-serif" font-size="28.5" fill="#000" text-anchor="middle" font-weight="normal"  >15</text>
<text x="1518.8" y="1072.8" font-family="Liberation Sans, sans-serif" font-size="28.5" fill="#000" text-anchor="middle" font-weight="normal"  >20</text>
<text x="1664.0" y="1072.8" font-family="Liberation Sans, sans-serif" font-size="28.5" fill="#000" text-anchor="middle" font-weight="normal"  >25</text>
<line x1="1344.5" y1="1045.0" x2="1349.5" y2="1045.0" stroke="#000" stroke-width="2"/>
<line x1="1344.5" y1="974.2" x2="1347.5" y2="974.2" stroke="#000" stroke-width="2"/>
<line x1="1344.5" y1="903.3" x2="1349.5" y2="903.3" stroke="#000" stroke-width="2"/>
<line x1="1344.5" y1="832.5" x2="1347.5" y2="832.5" stroke="#000" stroke-width="2"/>
<line x1="1344.5" y1="761.7" x2="1349.5" y2="761.7" stroke="#000" stroke-width="2"/>
<line x1="1344.5" y1="690.8" x2="1347.5" y2="690.8" stroke="#000" stroke-width="2"/>
<line x1="1344.5" y1="620.0" x2="1349.5" y2="620.0" stroke="#000" stroke-width="2"/>
<text x="1339" y="1053.2" font-family="Liberation Sans, sans-serif" font-size="28.5" fill="#000" text-anchor="end" font-weight="normal"  >25</text>
<text x="1339" y="911.5" font-family="Liberation Sans, sans-serif" font-size="28.5" fill="#000" text-anchor="end" font-weight="normal"  >35</text>
<text x="1339" y="769.9" font-family="Liberation Sans, sans-serif" font-size="28.5" fill="#000" text-anchor="end" font-weight="normal"  >45</text>
<text x="1339" y="628.2" font-family="Liberation Sans, sans-serif" font-size="28.5" fill="#000" text-anchor="end" font-weight="normal"  >55</text>
<text x="0" y="0" transform="translate(1294.5,832.5) rotate(-90)" font-family="Liberation Sans, sans-serif" font-size="28.6" text-anchor="middle">Max. angular Vel. (deg/s)</text>
<text x="1521" y="1108" font-family="Liberation Sans, sans-serif" font-size="28.7" fill="#000" text-anchor="middle" font-weight="normal"  >Bias voltage (V)</text>
<text x="1273.3" y="630.1" font-family="Liberation Sans, sans-serif" font-size="33" fill="#000" text-anchor="start" font-weight="bold"  >H</text>
<line x1="1454.1" y1="834.3" x2="1527.9" y2="739.2" stroke="#1010d8" stroke-width="3.2"/>
<path d="M1542.6,720.2 L1531.7,749.7 L1527.9,739.2 L1516.7,738.1 Z" fill="#1010d8"/>
<circle cx="1373.5" cy="988.3" r="7.3" fill="#0a0af0"/>
<circle cx="1446.1" cy="893.4" r="7.3" fill="#0a0af0"/>
<circle cx="1518.8" cy="842.4" r="7.3" fill="#0a0af0"/>
<circle cx="1591.4" cy="743.2" r="7.3" fill="#0a0af0"/>
<circle cx="1664.0" cy="691.5" r="7.3" fill="#0a0af0"/>
</svg>
</body></html>
